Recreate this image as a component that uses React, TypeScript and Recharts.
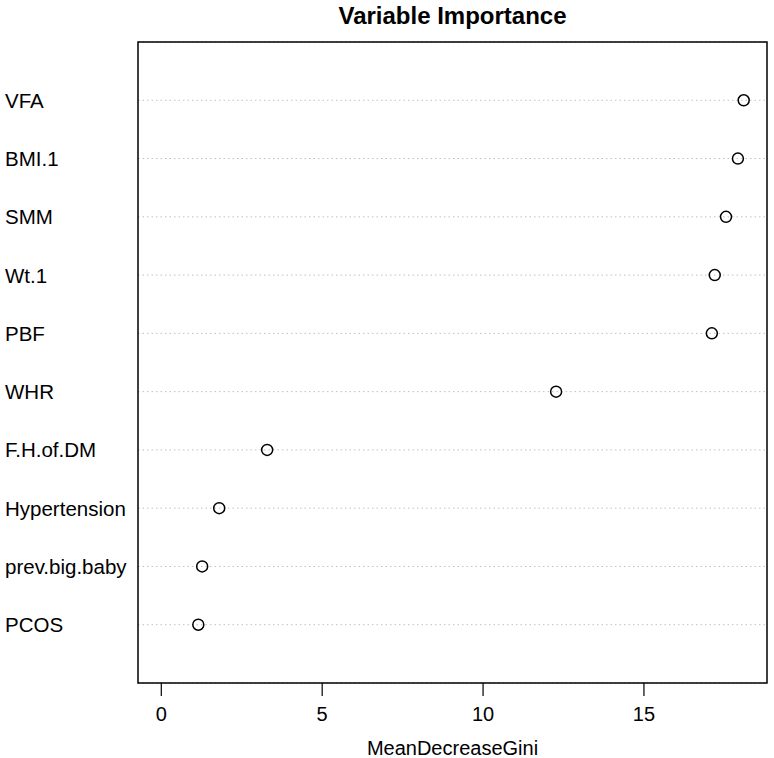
import React from "react";
import {
  ScatterChart,
  Scatter,
  XAxis,
  YAxis,
  CartesianGrid,
  ReferenceArea,
} from "recharts";

const variables = [
  "VFA",
  "BMI.1",
  "SMM",
  "Wt.1",
  "PBF",
  "WHR",
  "F.H.of.DM",
  "Hypertension",
  "prev.big.baby",
  "PCOS",
];
const meanDecreaseGini = [18.1, 17.92, 17.55, 17.2, 17.11, 12.27, 3.29, 1.8, 1.27, 1.15];
const xTicks = [0, 5, 10, 15];

const n = variables.length;
const data = variables.map((name, i) => ({
  name,
  x: meanDecreaseGini[i],
  y: n - i,
}));
const yTicks = data.map((d) => d.y);
const labelByY: Record<number, string> = {};
data.forEach((d) => (labelByY[d.y] = d.name));

const xMax = Math.max(...meanDecreaseGini);
const xPad = xMax * 0.04;
const xDomain: [number, number] = [-xPad, xMax + xPad];
const yDomain: [number, number] = [0, n + 1];

const FONT = "'Liberation Sans', Arial, Helvetica, sans-serif";

const YTick = (props: any) => {
  const { y, payload } = props;
  return (
    <text x={5} y={y} dy={7.5} textAnchor="start" fontSize={20.5} fill="#000" fontFamily={FONT}>
      {labelByY[payload.value]}
    </text>
  );
};

const OpenCircle = (props: any) => {
  const { cx, cy } = props;
  return <circle cx={cx} cy={cy} r={5.5} fill="none" stroke="#000" strokeWidth={1.5} />;
};

export default function App() {
  return (
    <div style={{ position: "absolute", left: 0, top: 0, width: 774, height: 758, background: "#fff" }}>
      <div
        style={{
          position: "absolute",
          left: 138,
          width: 629,
          top: 2,
          textAlign: "center",
          fontFamily: FONT,
          fontWeight: "bold",
          fontSize: 24,
          color: "#000",
        }}
      >
        Variable Importance
      </div>
      <ScatterChart
        width={774}
        height={758}
        margin={{ top: 42, right: 7, bottom: 0, left: 0 }}
      >
        <CartesianGrid vertical={false} stroke="#c0c0c0" strokeDasharray="1.5 3" />
        <XAxis
          type="number"
          dataKey="x"
          domain={xDomain}
          ticks={xTicks}
          allowDataOverflow
          axisLine={false}
          tickSize={13}
          tickLine={{ stroke: "#000", strokeWidth: 1.2 }}
          tick={{ fontSize: 20, fill: "#000", fontFamily: FONT, dy: 9 }}
          height={75}
          label={{
            value: "MeanDecreaseGini",
            position: "insideBottom",
            offset: 3,
            style: { fontSize: 20, fill: "#000", fontFamily: FONT },
          }}
        />
        <YAxis
          type="number"
          dataKey="y"
          domain={yDomain}
          ticks={yTicks}
          allowDataOverflow
          axisLine={false}
          tickLine={false}
          width={138}
          tick={<YTick />}
        />
        <ReferenceArea
          x1={xDomain[0]}
          x2={xDomain[1]}
          y1={yDomain[0]}
          y2={yDomain[1]}
          fill="none"
          stroke="#000"
          strokeWidth={1.5}
          ifOverflow="visible"
        />
        <Scatter data={data} shape={<OpenCircle />} isAnimationActive={false} />
      </ScatterChart>
    </div>
  );
}
